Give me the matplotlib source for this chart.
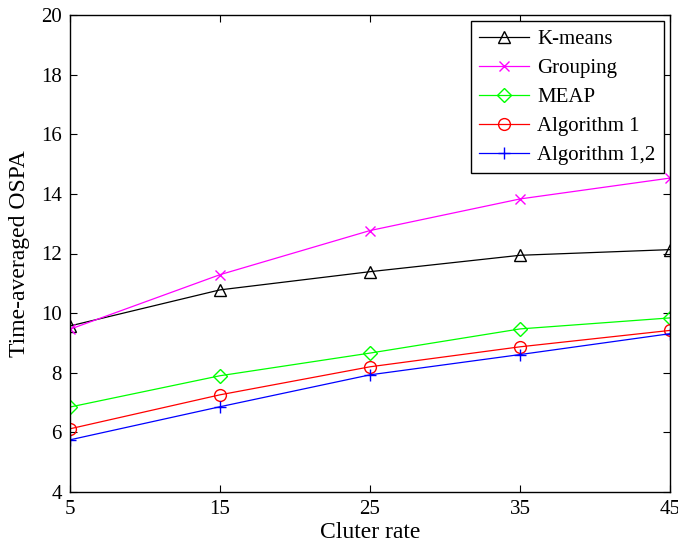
import matplotlib
matplotlib.use("Agg")
import matplotlib.pyplot as plt

x = [5, 15, 25, 35, 45]
kmeans = [9.57, 10.78, 11.39, 11.94, 12.13]
grouping = [9.46, 11.29, 12.77, 13.83, 14.53]
meap = [6.85, 7.90, 8.66, 9.47, 9.84]
alg1 = [6.12, 7.26, 8.20, 8.87, 9.42]
alg12 = [5.75, 6.86, 7.93, 8.61, 9.31]
labels = ["K-means", "Grouping", "MEAP", "Algorithm 1", "Algorithm 1,2"]
yticks = [4, 6, 8, 10, 12, 14, 16, 18, 20]

plt.rcParams['font.family'] = ['Liberation Serif', 'DejaVu Serif']

fig = plt.figure(figsize=(6.78, 5.44), dpi=100)
ax = fig.add_axes([70/678, 1 - 492/544, 600/678, 477/544])

lw = 0.9
ax.plot(x, kmeans, color='black', marker='^', mfc='none', ms=9, lw=lw, label=labels[0])
ax.plot(x, grouping, color='#ff00ff', marker='x', ms=6.5, lw=lw, label=labels[1])
ax.plot(x, meap, color='#00ff00', marker='D', mfc='none', ms=7, lw=lw, label=labels[2])
ax.plot(x, alg1, color='red', marker='o', mfc='none', ms=8.5, lw=lw, label=labels[3])
ax.plot(x, alg12, color='blue', marker='+', ms=9, lw=lw, label=labels[4])

ax.set_xlim(5, 45)
ax.set_ylim(4, 20)
ax.set_xticks(x)
ax.set_yticks(yticks)
ax.tick_params(direction='in', top=True, right=True, labelsize=15, length=5, pad=6)
for s in ax.spines.values():
    s.set_linewidth(1.0)
ax.set_xlabel("Cluter rate", fontsize=17, labelpad=2)
ax.set_ylabel("Time-averaged OSPA", fontsize=17, labelpad=8)

leg = ax.legend(loc='upper right', fontsize=15, fancybox=False, edgecolor='black',
                framealpha=1, borderaxespad=0.3, handlelength=2.4, labelspacing=0.45,
                handletextpad=0.4, borderpad=0.4)
leg.get_frame().set_linewidth(1.0)

fig.savefig("out.png", dpi=100)
